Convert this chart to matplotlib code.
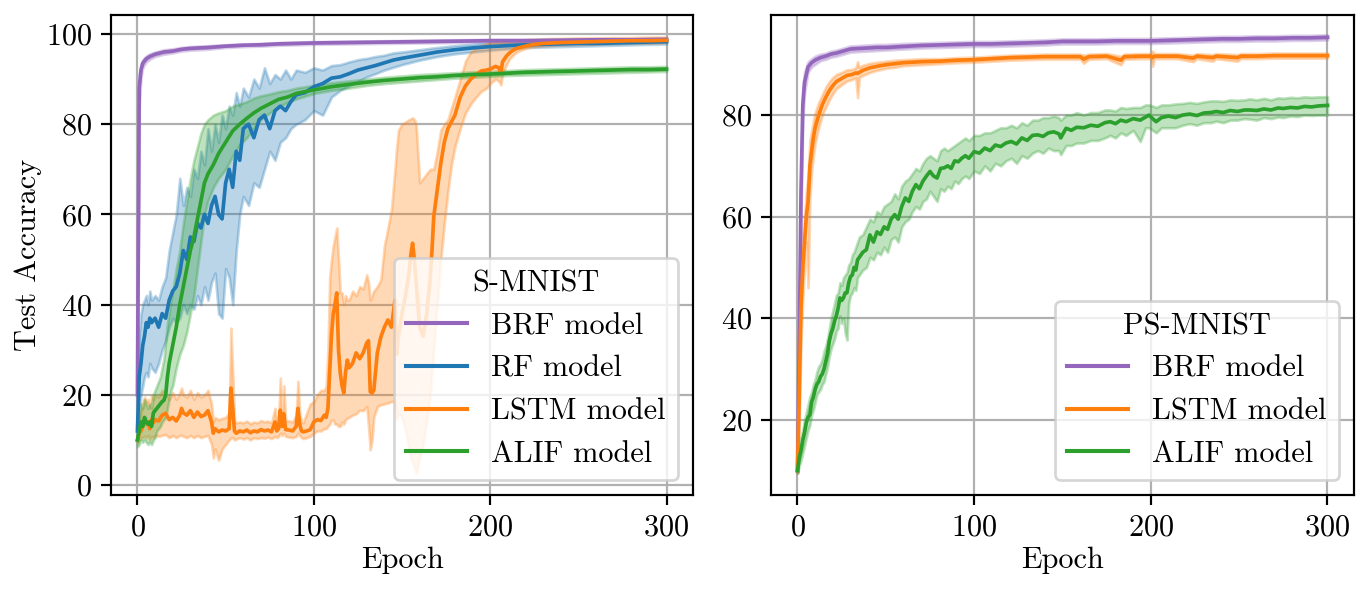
import matplotlib
matplotlib.use("Agg")
import matplotlib.pyplot as plt

# ---------------- S-MNIST (left) ----------------
brf_l_epoch = [0,1,2,3,4,5,7,10,15,20,25,30,40,50,60,70,80,90,100,120,140,160,180,200,220,240,260,280,300]
brf_l_mean = [20,88,92,93.5,94,94.5,95,95.5,96,96.2,96.6,96.8,97,97.3,97.5,97.6,97.8,97.9,98,98.1,98.2,98.3,98.4,98.5,98.5,98.6,98.7,98.7,98.8]
brf_l_lo = [18,84,90.5,92.5,93.2,93.8,94.4,95,95.5,95.8,96.2,96.4,96.6,97,97.2,97.3,97.5,97.6,97.7,97.8,97.9,98,98.1,98.2,98.2,98.3,98.4,98.4,98.5]
brf_l_hi = [22,91,93.3,94.3,94.7,95.1,95.6,96,96.5,96.7,97,97.2,97.4,97.6,97.8,97.9,98.1,98.2,98.3,98.4,98.5,98.6,98.7,98.8,98.8,98.9,99,99,99.1]

rf_epoch = [0,1,2,3,4,5,6,7,8,
            10,12,14,16,18,20,22,24,26,28,30,32,34,36,38,40,42,44,46,48,50,52,54,56,58,60,
            63,66,69,72,75,78,81,84,87,90,
            95,100,105,110,115,120,125,130,135,140,145,150,
            160,170,180,190,200,210,220,230,240,250,260,270,280,290,300]
rf_mean = [12,24,27,31,33,36,35,37,36,
           37,35,38,37,41,43,44,47,52,50,55,54,58,57,60,58,62,64,60,59,67,70,66,74,72,79,
           80,77,81,82,79,83,84,83,85,86.5,
           87,88.3,89,90.2,90.5,91.2,92,92.5,93,93.6,94.2,94.6,
           95.3,96,96.5,96.9,97.2,97.4,97.6,97.7,97.8,97.9,97.9,98,98.1,98.2,98.3]
rf_lo = [10,16,20,22,24,25,24,27,26,
         25,27,30,32,35,37,36,37,40,38,40,39,42,40,44,41,45,47,38,37,48,46,40,52,60,64,
         62,67,66,70,74,72,76,77,79,80,
         81,83,82,86,87.5,88.5,89.5,90.5,91.2,92,92.6,93.2,
         94.2,95,95.6,96,96.4,96.7,97,97.1,97.2,97.3,97.4,97.5,97.6,97.7,97.8]
rf_hi = [14,33,38,40,41,42,40,43,41,
         42,41,44,46,52,56,60,68,62,66,64,70,68,74,71,79,74,80,76,82,79,84,82,87,84,88,
         86,90,88,92.5,89,91,90,92,90,92,
         91.5,92.5,92,93,93.2,93.8,94.3,94.6,95,95.3,95.8,96,
         96.5,97,97.4,97.7,98,98.1,98.2,98.3,98.4,98.5,98.5,98.6,98.7,98.8,98.8]

lstm_l_epoch = [0,1,2,3,4,5,6,7,8,9,10,
                12,14,16,18,20,22,24,25,26,28,30,32,34,36,38,40,42,43,44,46,48,50,52,53,54,55,56,58,
                60,62,64,66,68,70,72,74,76,78,79,80,81,82,83,84,86,88,90,91,92,93,94,96,98,
                100,102,104,106,107,108,109,110,111,112,113,114,115,116,117,118,119,120,122,124,126,128,130,131,132,133,134,136,138,140,142,144,146,147,148,
                150,152,154,155,156,157,158,160,162,164,166,167,168,170,172,174,176,178,180,183,186,189,192,195,198,
                200,203,205,206,207,209,211,213,215,218,221,225,230,235,240,250,260,270,280,290,300]
lstm_l_mean = [10,11.5,12,13,14.4,13.5,14,12.5,14.5,13.8,14.5,
               14.2,15.5,15.9,14.5,15,14.2,15.5,17,16,15.5,16.5,15,16.2,15.2,15.5,16.5,14,11.5,12.5,11.8,12.2,12,12.5,21.5,17,12,11.5,12,
               11.8,12.2,11.6,12,11.8,12.3,12,12.2,11.8,14,12,12.5,16.6,13,15.8,12.3,12.2,12,13,17,13.5,12,11.8,12,12.3,
               14,14.5,14.3,15.5,15,17,25,33,38,40,42.6,30,24.8,22,20.4,25,27.7,26,27,29.3,28,29.3,31.5,32,20.7,20.4,21,29.3,32.8,35,36.6,35,41,29,33,
               38,42,47,51,53.6,50,45,35,33,38,46,52,59.5,65.4,71.3,76,79,80.5,82,86,88.5,90,91,91.8,92,
               92.2,92.8,92.5,91.3,93.8,95,95.8,96.4,96.8,97.1,97.4,97.7,97.9,98,98.1,98.2,98.3,98.4,98.5,98.5,98.6]
lstm_l_lo = [9.5,10,10.5,10.5,10.8,10.5,11,10,10.8,10.5,11,
             10.8,11,11.2,10.5,11,10.5,11,11,10.8,10.5,11,10.5,11,10.5,10.8,11,9,6,8,5.5,8,9,10,10.5,10.5,10,10.2,10.5,
             10.2,10.5,10,10.5,10.3,10.5,10.4,10.6,10.3,10.8,10.5,10.8,11.5,11,11.5,10.8,10.6,10.5,10.8,11.5,11,10.5,10.3,10.5,10.8,
             11.5,12,12,12.5,12.5,13,13.5,14.4,14.4,13.5,13.5,13,13,14,13.5,14.5,14.8,15,15.5,15.8,16.6,16.5,17.4,13,7.8,10,15,17.4,17.8,18,18.2,18.5,18.5,14.4,16,
             15,12,8,6,5,4,2.6,6,9,14,20,25,30,40,50,58,65,71,75,79,82.5,84.5,86,87.3,88,
             89,90,89.5,88.7,91,93,94.5,95.3,96,96.5,96.9,97.2,97.4,97.5,97.6,97.7,97.8,97.9,98,98,98.1]
lstm_l_hi = [11,14,16,18,19.5,18.5,19,17.5,20,19,20,
             19.5,21,20.5,19,20.5,19,20.5,21.5,20,19.5,21,19,20.5,19.5,20,21,18,14,15,14.5,14.8,15,16,34.8,25,14.5,13.8,14,
             13.8,14.2,13.6,14,13.8,14.3,14,14.2,13.8,17,14,14.5,23.7,15,22,14.3,14.2,14,15.5,23,16,14,13.8,16,18,
             18.5,20,21,21,22,30,46,50,53,55,57,50,42.6,42.6,40,42,41,41,43,42,44,43.5,46.6,45,41,42,43,44,45.5,53,57,61,70,75,78.7,
             80,80.5,81,81.2,81.4,81,80,67,68,69,70,70,70,74,78.7,80,81,83.5,86,90,94,96,96.8,97.5,97.8,
             98,98.1,98.2,98.2,98.3,98.4,98.5,98.6,98.6,98.7,98.8,98.8,98.9,99,99,99.1,99.1,99.2,99.2,99.3,99.3]

alif_l_epoch = [0,1,2,3,4,5,6,7,8,9,10,11,12,13,14,15,16,17,18,19,20,
                22,24,26,28,30,32,34,36,38,40,
                43,46,50,54,58,62,66,70,75,80,85,90,95,100,
                110,120,130,140,150,160,170,180,190,200,210,220,230,240,250,260,270,280,290,300]
alif_l_mean = [10,12,14,13,15,14,13.5,14,13,16,16.5,17,17.5,18,18.5,18.8,20,24,27,29,31,
               35,40,44,48,52,55,59,63,67,69,
               71,73.5,76,78.5,80,81.3,82.5,83.5,84.5,85.5,86,86.8,87.2,87.6,
               88.3,88.8,89.3,89.7,90,90.3,90.5,90.8,91,91.1,91.3,91.5,91.6,91.7,91.8,91.9,92,92.1,92.1,92.2]
alif_l_lo = [8.5,9,10,9.5,10,9.5,9,9.5,9,10,10.5,12,12.5,13,14,14.5,15,17,19,21,22,
             26,29,31,34,38,42,48,54,60,63,
             66,68,70,73,75.5,77,79,81,82.5,83.8,84.8,85.6,86.2,86.8,
             87.5,88,88.6,89,89.3,89.6,89.9,90.2,90.4,90.6,90.8,90.9,91,91.1,91.2,91.3,91.4,91.5,91.6,91.7]
alif_l_hi = [12,15,18,17,19,18,17,18,17,20,21,22,23,24,26,28,32,36,38,41,43,
             48,52,58,63,68,72,75,78,80,81,
             82,82.5,83,84,84.5,85,85.8,86.3,86.7,87.2,87.5,88,88.3,88.6,
             89.2,89.6,90,90.4,90.7,91,91.2,91.4,91.6,91.7,91.9,92.1,92.2,92.3,92.4,92.5,92.6,92.7,92.7,92.8]

# ---------------- PS-MNIST (right) ----------------
brf_r_epoch = [0,1,2,3,4,5,6,8,10,13,16,19,22,26,30,35,40,45,50,55,60,70,80,90,100,110,120,130,140,150,160,170,180,190,200,210,220,230,240,250,260,270,280,290,300]
brf_r_mean = [10,35,65,82,86.5,88,89.5,90.3,90.8,91.3,91.6,92,92.2,92.6,93,93.1,93.2,93.3,93.3,93.4,93.5,93.7,93.8,93.9,94,94,94.1,94.2,94.3,94.5,94.5,94.5,94.6,94.6,94.6,94.7,94.8,94.9,95,95,95.1,95.1,95.2,95.2,95.3]
brf_r_lo = [9.5,30,60,79,84.5,86.5,88.5,89.5,90,90.7,91,91.4,91.6,92,92.4,92.5,92.6,92.7,92.8,92.9,93,93.2,93.3,93.4,93.5,93.5,93.6,93.7,93.8,94,94,94,94.1,94.1,94.1,94.2,94.3,94.4,94.5,94.5,94.6,94.6,94.7,94.7,94.8]
brf_r_hi = [10.5,40,70,85,88.5,89.5,90.5,91.1,91.6,92,92.2,92.6,92.8,93.2,93.6,93.7,93.8,93.9,93.9,94,94.1,94.2,94.3,94.4,94.5,94.5,94.6,94.7,94.8,95,95,95,95.1,95.1,95.1,95.2,95.3,95.4,95.5,95.5,95.6,95.6,95.7,95.7,95.8]

lstm_r_epoch = [0,1,2,3,4,5,6,7,8,9,10,
                12,14,16,18,20,22,
                25,28,31,33,34,35,37,
                41,45,50,55,60,
                70,80,90,100,110,120,130,140,150,160,
                162,165,175,183,185,195,
                200,201,202,205,215,
                224,226,235,237,249,251,
                260,270,280,290,300]
lstm_r_mean = [10,25,42,50,55,60,63,70,73,75.5,77.5,
               80,82,83.5,84.8,85.8,86.6,
               87.2,87.8,88,88.3,88.2,88.4,88.8,
               89.3,89.6,89.9,90.1,90.3,
               90.5,90.6,90.8,90.9,91.1,91.3,91.4,91.5,91.5,91.5,
               91,91.5,91.6,90.8,91.5,91.6,
               91.6,91.3,91.6,91.6,91.6,
               91.2,91.6,91.3,91.6,91.3,91.6,
               91.6,91.7,91.7,91.7,91.7]
lstm_r_lo = [9.5,20,36,44,50,55,46,64,69,72,74.5,
             77.5,80,81.5,83,84.2,85.2,
             86,86.7,87,87.3,83.4,87.4,87.8,
             88.4,88.8,89.2,89.4,89.7,
             89.9,90.1,90.3,90.4,90.6,90.8,90.9,91,91,91,
             90.2,91,91.1,89.9,91,91.1,
             91.1,89.6,91.1,91.1,91.1,
             90.5,91.1,90.6,91.1,90.6,91.1,
             91.1,91.2,91.2,91.2,91.2]
lstm_r_hi = [10.5,30,48,56,60,65,68,75,77,79,80.5,
             82.5,84,85.5,86.6,87.4,88,
             88.4,88.9,89,89.3,90.5,89.4,89.8,
             90.2,90.4,90.6,90.8,90.9,
             91.1,91.1,91.3,91.4,91.6,91.8,91.9,92,92,92,
             91.8,92,92.1,91.6,92,92.1,
             92.1,92.6,92.1,92.1,92.1,
             91.8,92.1,91.9,92.1,91.9,92.1,
             92.1,92.2,92.2,92.2,92.2]

alif_r_epoch = [0,1,2,3,4,5,6,7,8,9,10,11,12,13,14,15,16,17,18,19,20,21,22,23,24,25,26,27,28,29,30,31,32,33,34,35,
                37,39,41,43,45,47,49,51,53,55,57,59,61,63,65,67,69,71,73,75,77,79,81,83,85,87,89,91,93,95,97,
                100,103,106,109,112,115,118,121,124,127,130,133,136,139,142,145,148,
                149,152,155,158,162,166,170,174,177,180,183,186,190,194,197,199,201,203,206,210,
                214,218,222,226,230,234,237,241,245,249,253,256,260,264,268,272,275,279,283,287,291,295,300]
alif_r_mean = [10,12.5,14,16,17.5,19.5,20.5,21,23.5,24.5,26,27,27.5,28.5,29,30,31.5,33,35.5,37,38,39.5,40.5,42,44,43.5,44,45,45,47,48.2,48.5,50,49.5,51.5,52,
               53,53.5,56.4,55,57,56.5,58,57.5,59.5,60.4,59.5,62,63.7,63,65,66.3,65.5,67,68,68.9,68,67.6,69.5,69.6,70,69.5,71,70.8,71.5,72,71.5,
               72.8,72.5,73.5,73,74.1,73.8,74.5,74.8,74.3,75.5,75,76,76.1,75.8,76.5,76.7,76.3,
               75.5,77.4,77,77.6,77.5,78,77.8,78.5,78.7,78.3,79,78.7,79.3,79,79.6,80,79.3,78.7,79.5,79.8,
               79.5,80,80.2,79.9,80.4,80.5,80.7,80.5,80.9,80.7,81,81,80.9,81.2,81,81.4,81.3,81.5,81.4,81.7,81.6,81.8,81.9]
alif_r_lo = [9.5,11,12,13.5,15,16.5,18,19,21,22,23.5,25,25.5,26,27,27.5,29,30.5,32.5,34,35,36,37.5,38,40.5,39,40,37,35.7,43,44.5,45,46,45.5,48,48.5,
             49.5,50,52,51.5,53,52.5,54,53,55.5,56,55,58,59,59.5,61,62,61.5,63,63.5,65,64,63,65.5,65,66,65.5,67,66.5,67.5,68,67.5,
             69,68.5,70,69,70.5,70,71,71.5,70.5,72,71.5,72.5,73,72.5,73.5,73,73,
             72.2,74,74,74.5,74.5,75,75,75.5,76,75.5,76.5,76,77,74.8,77.5,77.5,77,76.5,77.5,77.5,
             77.5,78,78.3,78,78.5,78.5,78.8,78.5,79,79,79.3,79.2,79,79.5,79.3,79.6,79.5,79.8,79.7,80,79.9,80,80]
alif_r_hi = [10.5,14,16.5,18,20,21.5,23,24.5,25.5,27,28,29.5,30.5,31,32,33.5,34.5,36,38,40,41.5,43,44.5,45,47,46.5,48,48.5,49,50.5,51,52.5,53,54,55,56,
             56.5,58,59.5,59,61,60.5,62,62.5,63,64.5,63.5,66,67,67.5,68.5,69.5,69,70.5,71.5,72,71.5,71,73,73.5,73,73.5,74,74.5,75,75.5,75,
             76,76,76.5,76.5,77,77.5,77.5,78,77.5,78.5,78,79,79,79.5,79.5,79.8,79.5,
             79,80,80,80.5,80,80.5,80.5,81,81,80.8,81.5,81.3,81.5,81.5,82,82,81.8,81.5,82,82,
             82.2,82.3,82.5,82.3,82.6,82.8,82.8,82.7,83,82.9,83,83.2,83,83.3,83,83.4,83.3,83.5,83.4,83.6,83.5,83.6,83.6]

labels_left = ["BRF model", "RF model", "LSTM model", "ALIF model"]
labels_right = ["BRF model", "LSTM model", "ALIF model"]
c_brf, c_rf, c_lstm, c_alif = "#9467bd", "#1f77b4", "#ff7f0e", "#2ca02c"

s = 1.96
plt.rcParams.update({
    "font.family": "cmr10",
    "mathtext.fontset": "cm",
    "axes.formatter.use_mathtext": True,
    "font.size": 21.8,
    "axes.linewidth": 0.8 * s,
    "xtick.major.width": 0.8 * s,
    "ytick.major.width": 0.8 * s,
    "xtick.major.size": 3.5 * s,
    "ytick.major.size": 3.5 * s,
    "xtick.major.pad": 3.5 * s,
    "ytick.major.pad": 3.5 * s,
    "grid.linewidth": 0.8 * s,
    "grid.color": "#b0b0b0",
})

fig = plt.figure(figsize=(13.7, 5.9), dpi=100)
ax1 = fig.add_axes([111 / 1370, 1 - 495 / 590, (693 - 111) / 1370, 480 / 590])
ax2 = fig.add_axes([771 / 1370, 1 - 495 / 590, (1354 - 771) / 1370, 480 / 590])


def draw(ax, ep, mean, lo, hi, color, label):
    ax.fill_between(ep, lo, hi, color=color, alpha=0.3, lw=1.0 * s)
    ax.plot(ep, mean, color=color, lw=1.35 * s, label=label)


draw(ax1, brf_l_epoch, brf_l_mean, brf_l_lo, brf_l_hi, c_brf, labels_left[0])
draw(ax1, rf_epoch, rf_mean, rf_lo, rf_hi, c_rf, labels_left[1])
draw(ax1, lstm_l_epoch, lstm_l_mean, lstm_l_lo, lstm_l_hi, c_lstm, labels_left[2])
draw(ax1, alif_l_epoch, alif_l_mean, alif_l_lo, alif_l_hi, c_alif, labels_left[3])

draw(ax2, brf_r_epoch, brf_r_mean, brf_r_lo, brf_r_hi, c_brf, labels_right[0])
draw(ax2, lstm_r_epoch, lstm_r_mean, lstm_r_lo, lstm_r_hi, c_lstm, labels_right[1])
draw(ax2, alif_r_epoch, alif_r_mean, alif_r_lo, alif_r_hi, c_alif, labels_right[2])

ax1.set_xlim(-15, 315)
ax1.set_ylim(-2.2, 104.2)
ax2.set_xlim(-15, 315)
ax2.set_ylim(5.2, 99.7)
ax1.set_xticks([0, 100, 200, 300])
ax2.set_xticks([0, 100, 200, 300])
ax1.set_yticks([0, 20, 40, 60, 80, 100])
ax2.set_yticks([20, 40, 60, 80])

for ax, title in ((ax1, "S-MNIST"), (ax2, "PS-MNIST")):
    ax.grid(True)
    ax.set_axisbelow(True)
    ax.set_xlabel("Epoch", labelpad=3.5)
    leg = ax.legend(title=title, loc="lower right", framealpha=0.8)
    leg.get_frame().set_linewidth(1.0 * s)
    for line in leg.get_lines():
        line.set_linewidth(1.5 * s)

ax1.set_ylabel("Test Accuracy", labelpad=2.5)

fig.savefig("out.png", dpi=100)
